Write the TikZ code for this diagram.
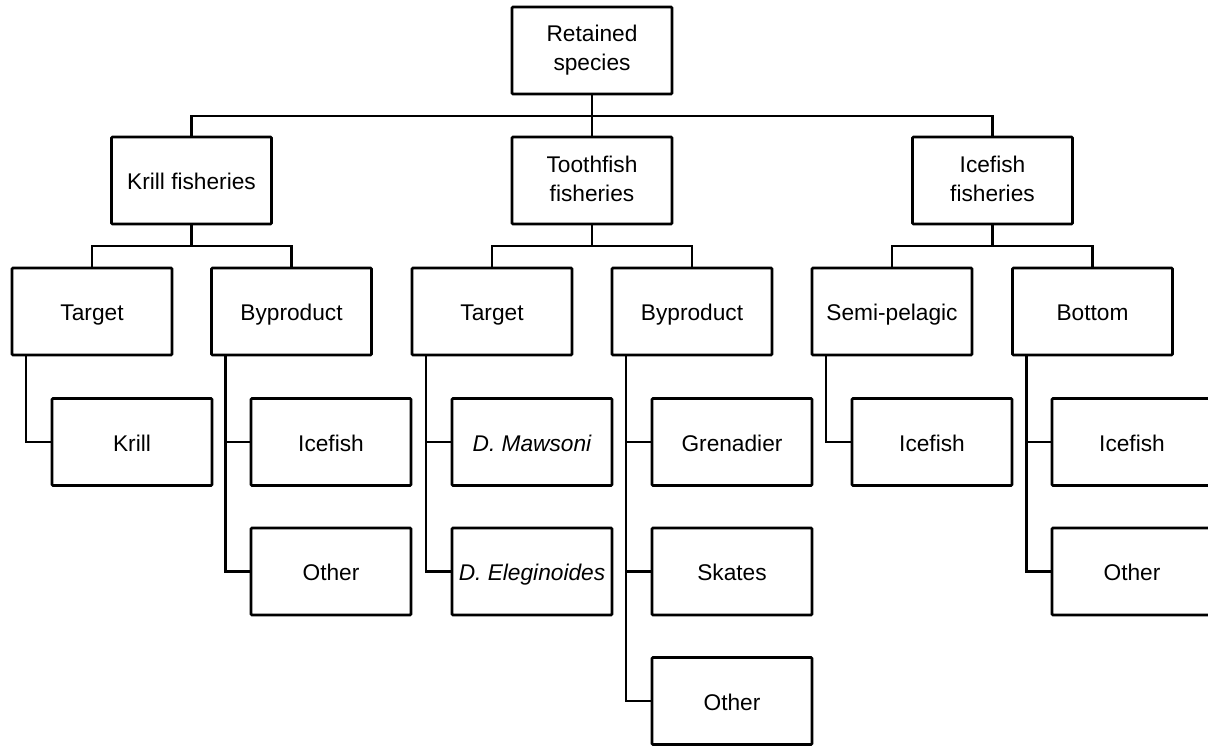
\documentclass[tikz,border=0pt]{standalone}
\usepackage{fontspec}
\setmainfont{Liberation Sans}
% strut used at both ends of every box label
\newcommand{\boxstrut}{\rule[-4pt]{0pt}{26pt}}
\begin{document}
\begin{tikzpicture}[x=1pt,y=-1pt,
  box/.style={draw, line width=2.8pt, rounded corners=1pt, inner sep=0pt, outer sep=0pt,
    minimum width=160pt, minimum height=87pt, align=center,
    font=\fontsize{22.7}{29.2}\selectfont,
    execute at begin node=\boxstrut, execute at end node=\boxstrut},
  link/.style={line width=2.8pt}]
\useasboundingbox (0,0) rectangle (1208,746);

% root and fishery level
\node[box] (root)   at (592,50.5)   {Retained\\species};
\node[box] (krillF) at (191.5,180.5) {Krill fisheries};
\node[box] (toothF) at (592,180.5)   {Toothfish\\fisheries};
\node[box] (iceF)   at (992.5,180.5) {Icefish\\fisheries};

% catch categories
\node[box] (kT) at (92,311.5)     {Target};
\node[box] (kB) at (291.5,311.5)  {Byproduct};
\node[box] (tT) at (492,311.5)    {Target};
\node[box] (tB) at (692,311.5)    {Byproduct};
\node[box] (iS) at (892,311.5)    {Semi-pelagic};
\node[box] (iB) at (1092.5,311.5) {Bottom};

% species
\node[box] (kTa) at (132,442)    {Krill};
\node[box] (kBa) at (331,442)    {Icefish};
\node[box] (kBb) at (331,571.5)  {Other};
\node[box] (tTa) at (532,442)    {\itshape D. Mawsoni};
\node[box] (tTb) at (532,571.5)  {\itshape D. Eleginoides};
\node[box] (tBa) at (732,442)    {Grenadier};
\node[box] (tBb) at (732,571.5)  {Skates};
\node[box] (tBc) at (732,701)    {Other};
\node[box] (iSa) at (932,442)    {Icefish};
\node[box] (iBa) at (1132,442)   {Icefish};
\node[box] (iBb) at (1132,571.5) {Other};

% tree connectors
\coordinate (bus0) at (592,116);
\draw[link] (root) -- (toothF);
\draw[link] (krillF.north) |- (bus0) -| (iceF.north);

\foreach \p/\a/\b in {krillF/kT/kB, toothF/tT/tB, iceF/iS/iB}{
  \draw[link] (\p.south) -- ++(0,22);
  \draw[link] (\a.north) -- ++(0,-22) -| (\b.north);
}

% bracket connectors to species: one vertical spine per parent, one tick per child
\foreach \p in {kT, kB, tT, tB, iS, iB}{
  \coordinate (\p-spine) at ([xshift=14pt]\p.south west);
}
\foreach \p/\c in {kT/kTa, kB/kBb, tT/tTb, tB/tBc, iS/iSa, iB/iBb}{
  \draw[link] (\p-spine) |- (\c.west);
}
\foreach \p/\c in {kB/kBa, tT/tTa, tB/tBa, tB/tBb, iB/iBa}{
  \draw[link] (\p-spine |- \c.west) -- (\c.west);
}
\end{tikzpicture}
\end{document}
